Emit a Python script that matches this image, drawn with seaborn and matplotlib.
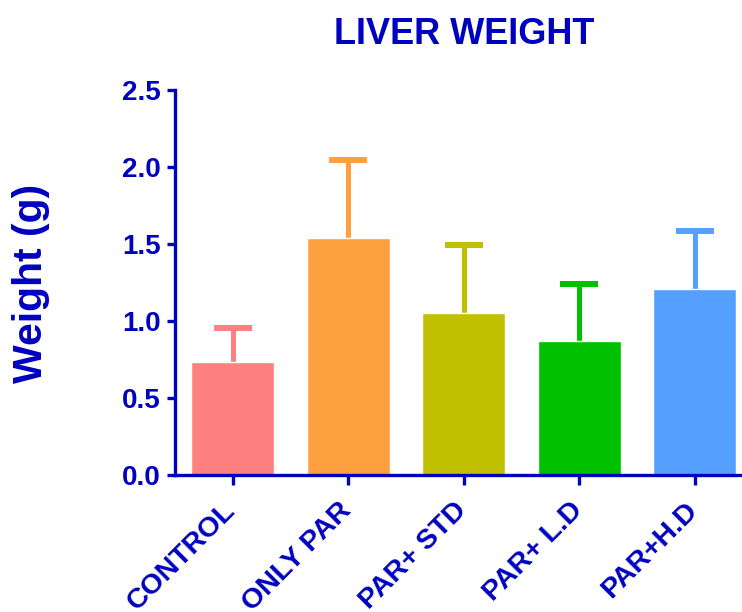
import matplotlib
matplotlib.use("Agg")
import matplotlib.pyplot as plt
import matplotlib.transforms as mtransforms
import seaborn as sns
import pandas as pd

# Liver weight per treatment group (mean and upper SD)
groups = ["CONTROL", "ONLY PAR", "PAR+ STD", "PAR+ L.D", "PAR+H.D"]
means = [0.736, 1.537, 1.050, 0.872, 1.206]
sds = [0.220, 0.506, 0.445, 0.369, 0.378]
colors = ["#FF8080", "#FFA040", "#C0C000", "#00C000", "#55A0FF"]

ink = "#0000C0"

sns.set_style("white")
plt.rcParams["font.family"] = ["Liberation Sans", "DejaVu Sans"]
plt.rcParams["font.weight"] = "bold"

df = pd.DataFrame({"group": groups, "weight": means})

fig = plt.figure(figsize=(7.42, 6.12), dpi=100)
ax = fig.add_axes([175 / 742, 1 - 475 / 612, 1 - 175 / 742, (475 - 90) / 612])

sns.barplot(data=df, x="group", y="weight", hue="group", palette=colors,
            width=0.72, legend=False, ax=ax, saturation=1, errorbar=None,
            zorder=2)

# upper-only error bars: stems sit behind the bars, lower caps are dropped
for i, (m, s, c) in enumerate(zip(means, sds, colors)):
    cont = ax.errorbar(i, m, yerr=[[0], [s]], fmt="none", ecolor=c,
                       elinewidth=3.6, capsize=14, capthick=4.3, zorder=1)
    for cap in cont.lines[1]:
        if abs(cap.get_ydata()[0] - m) < 1e-9:
            cap.set_visible(False)

ax.set_xlim(-0.5, 4.41)
ax.set_ylim(0, 2.5)
ax.set_yticks([0.0, 0.5, 1.0, 1.5, 2.0, 2.5])
ax.set_yticklabels([f"{v:.1f}" for v in [0.0, 0.5, 1.0, 1.5, 2.0, 2.5]])

for side in ["top", "right"]:
    ax.spines[side].set_visible(False)
for side in ["left", "bottom"]:
    ax.spines[side].set_color(ink)
    ax.spines[side].set_linewidth(2.4)

ax.tick_params(axis="y", direction="out", length=6, width=2.4, color=ink,
               labelcolor=ink, labelsize=20, pad=4, left=True)
ax.tick_params(axis="x", direction="out", length=7, width=2.4, color=ink,
               labelcolor=ink, labelsize=20.5, pad=6, bottom=True)
shift = mtransforms.ScaledTranslation(-10 / 100, -4 / 100, fig.dpi_scale_trans)
for lbl in ax.get_xticklabels():
    lbl.set_rotation(45)
    lbl.set_ha("right")
    lbl.set_va("top")
    lbl.set_rotation_mode("anchor")
    lbl.set_fontweight("bold")
    lbl.set_transform(lbl.get_transform() + shift)
for lbl in ax.get_yticklabels():
    lbl.set_fontweight("bold")

ax.set_xlabel("")
ax.set_ylabel("")
fig.text(31 / 742, 1 - 283 / 612, "Weight (g)", rotation=90, ha="center",
         va="center", fontsize=29.5, fontweight="bold", color=ink)
fig.text(464 / 742, 1 - 44 / 612, "LIVER WEIGHT", ha="center", va="baseline",
         fontsize=26, fontweight="bold", color=ink)

fig.savefig("out.png", dpi=100)
